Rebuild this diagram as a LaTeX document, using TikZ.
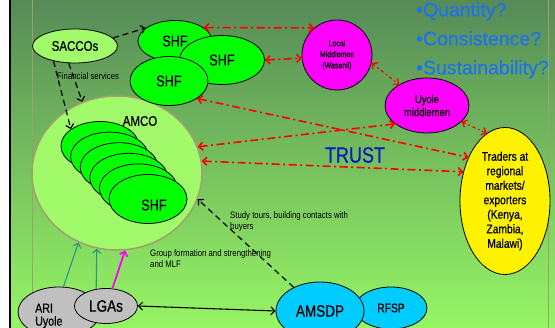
\documentclass[tikz,border=0pt]{standalone}
\usepackage{fontspec}
\setmainfont{Liberation Sans}[FakeStretch=0.82]
\newfontfamily\heavyFont{Liberation Sans}[FakeStretch=0.82, FakeBold=0.7]
\newfontfamily\wideFont{Liberation Sans}[FakeBold=0.4]
\usetikzlibrary{positioning,shapes.geometric,arrows.meta}
\tikzstyle{canvas} = [x = 1pt, y = -1pt, >={Straight Barb[length=4pt,width=8pt]}]
\definecolor{topGreen}{RGB}{86,138,88}
\definecolor{bottomGreen}{RGB}{150,246,100}
\definecolor{paleGreen}{RGB}{160,250,105}
\definecolor{shfGreen}{RGB}{0,255,0}
\definecolor{borderTan}{RGB}{160,160,110}
\definecolor{questionBlue}{RGB}{30,115,235}
\definecolor{trustBlue}{RGB}{10,30,185}
\definecolor{supportTeal}{RGB}{40,150,130}
\definecolor{ariGray}{RGB}{192,192,192}
\definecolor{amsdpCyan}{RGB}{0,204,255}
\definecolor{middlemanMagenta}{RGB}{255,0,255}
\tikzstyle{blobStyle} = [ellipse, draw=black, line width=.8pt, inner sep=0pt]
\tikzstyle{shfBlob} = [blobStyle, fill=shfGreen, font=\heavyFont\fontsize{15.5}{17}\selectfont]
\tikzstyle{middlemanBlob} = [blobStyle, fill=middlemanMagenta, align=center]
\tikzstyle{trustLink} = [<->, red, line width=1.6pt, dash pattern=on 8pt off 3.5pt on 2pt off 3.5pt]
\tikzstyle{rumourLink} = [<->, red, line width=1.3pt, dash pattern=on 3pt off 3pt on 1.5pt off 3pt]
\tikzstyle{supportLink} = [->, black, line width=1.2pt, dash pattern=on 6pt off 4pt]
\tikzstyle{helpLink} = [->, line width=1.1pt]
\tikzstyle{smallNote} = [font=\fontsize{9.5}{11.5}\selectfont, align=left, inner sep=0pt]
\newcommand{\stackedShf}[3]{\node [shfBlob, minimum width=78, minimum height=49] (stack#1) at (#2,#3) {};}

\begin{document}
\begin{tikzpicture}[canvas]
  \useasboundingbox (0,0) rectangle (555,328);
  % background
  \shade [top color=topGreen, bottom color=bottomGreen] (10,0) rectangle (555,328);
  \draw [black, line width=2pt] (9.5,0) -- (9.5,328);
  \draw [borderTan, line width=.8pt] (32.5,0) -- (32.5,300);
  \draw [borderTan, line width=1.5pt] (548.5,0) -- (548.5,328);

  % AMCO and its farmers
  \node [ellipse, draw=borderTan, fill=paleGreen, line width=1.5pt, minimum width=170, minimum height=154] (amco) at (117,173) {};
  \foreach \i in {0,...,5} {
    \stackedShf{\i}{100+9.6*\i}{146+10.6*\i}
  }
  \node [font=\heavyFont\fontsize{15.5}{17}\selectfont] (stackLabel) at (154,205) {SHF};
  \node [font=\heavyFont\fontsize{14}{16}\selectfont] (amcoLabel) at (140,121) {AMCO};

  % farmers outside
  \node [blobStyle, fill=paleGreen, minimum width=85, minimum height=34, font=\heavyFont\fontsize{14}{16}\selectfont] (saccos) at (75,46) {SACCOs};
  \node [shfBlob, minimum width=74, minimum height=41] (shfA) at (175,41) {SHF};
  \node [shfBlob, minimum width=85, minimum height=49] (shfB) at (222,60) {SHF};
  \node [shfBlob, minimum width=78, minimum height=49] (shfC) at (169,81) {SHF};

  % middlemen and traders
  \node [middlemanBlob, minimum width=70, minimum height=70, font=\heavyFont\fontsize{8.5}{11}\selectfont] (local) at (337,55) {Local\\Middlemen\\(Wasanii)};
  \node [middlemanBlob, minimum width=84, minimum height=55, font=\heavyFont\fontsize{11.5}{13}\selectfont] (uyole) at (427,105.5) {Uyole\\middlemen};
  \node [blobStyle, fill=yellow, minimum width=90, minimum height=147, align=center, font=\heavyFont\fontsize{12.5}{14.5}\selectfont] (traders) at (505,201) {Traders at\\regional\\markets/\\exporters\\(Kenya,\\Zambia,\\Malawi)};

  % support
  \node [blobStyle, fill=ariGray, minimum width=82, minimum height=50] (ari) at (59,312) {};
  \node [font=\heavyFont\fontsize{13}{13}\selectfont, align=left, anchor=west, inner sep=0pt] (ariLabel) at (35,316) {ARI\\Uyole};
  \node [blobStyle, fill=ariGray, minimum width=63, minimum height=35, font=\heavyFont\fontsize{16.5}{18}\selectfont] (lgas) at (106,306) {LGAs};
  \node [blobStyle, fill=amsdpCyan, minimum width=72, minimum height=42, font=\heavyFont\fontsize{12.5}{14}\selectfont] (rfsp) at (391,308) {RFSP};
  \node [blobStyle, fill=amsdpCyan, minimum width=88, minimum height=58, font=\heavyFont\fontsize{16.5}{18}\selectfont] (amsdp) at (320,311) {AMSDP};

  % texts
  \node [smallNote, anchor=west] (financeNote) at (57,76) {Financial services};
  \node [smallNote, anchor=north west] (studyNote) at (230,211) {Study tours, building contacts with\\buyers};
  \node [smallNote, anchor=north west] (groupNote) at (150,249) {Group formation and strengthening\\and MLF};
  \node [font=\heavyFont\fontsize{22}{24}\selectfont, text=trustBlue] (trust) at (355,155) {TRUST};
  \node [font=\wideFont\fontsize{19.5}{29}\selectfont, text=questionBlue, align=left, anchor=north west, inner sep=0pt] (questions) at (416,2) {\textbullet Quantity?\\\textbullet Consistence?\\\textbullet Sustainability?};

  % connectors
  \draw [supportLink] (saccos.12) -- (shfA.156);
  \draw [supportLink] (saccos.215) -- (stack0.150);
  \draw [supportLink] (saccos.250) -- (amco.116);
  \draw [supportLink] (amsdp.138) -- (amco.342);
  \draw [helpLink, supportTeal] (ari.80) -- (amco.241);
  \draw [helpLink, supportTeal] (lgas.120) -- (amco.255);
  \draw [helpLink, middlemanMagenta, line width=1.8pt] (lgas.70) -- (amco.276);
  \draw [<->, line width=1.1pt] (lgas.east) -- (amsdp.west);

  \draw [trustLink] (shfA.25) -- (local.130);
  \draw [trustLink] (shfB.east) -- (local.185);
  \draw [rumourLink] (local.347) -- (uyole.143);
  \draw [rumourLink] (uyole.335) -- (traders.105);
  \draw [trustLink] (shfC.328) -- (traders.130);
  \draw [trustLink] (amco.18) -- (uyole.210);
  \draw [trustLink] (amco.8) -- (traders.145);
\end{tikzpicture}
\end{document}
